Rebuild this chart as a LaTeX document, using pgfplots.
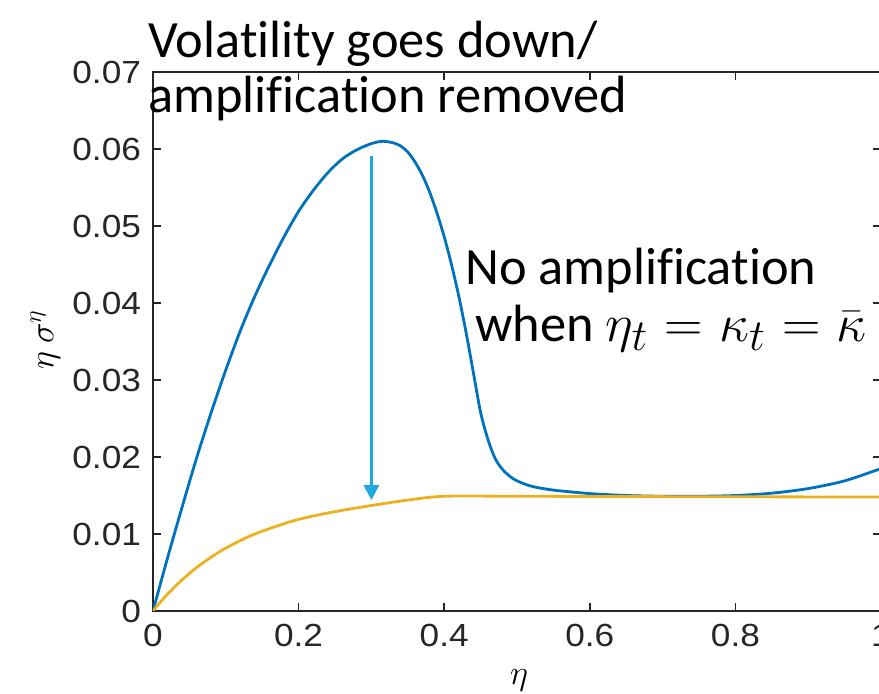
\documentclass[border=0pt]{standalone}
\usepackage{pgfplots}
\pgfplotsset{compat=1.18}
\usetikzlibrary{arrows.meta}
\usepackage{fontspec}
\setmainfont{Carlito}[Ligatures=NoCommon]
\newfontfamily\tickfont{Liberation Sans}[FakeStretch=1.1]
\definecolor{mblue}{HTML}{0072BD}
\definecolor{morange}{HTML}{EDB120}
\definecolor{arrowc}{RGB}{30,168,224}
\definecolor{axc}{HTML}{262626}
\begin{document}
\begin{tikzpicture}
\useasboundingbox (-76.5pt,-41.5pt) rectangle (363pt,305.5pt);
\begin{axis}[
  at={(0pt,0pt)}, anchor=south west,
  scale only axis, width=364pt, height=269.5pt,
  xmin=0, xmax=1, ymin=0, ymax=0.07,
  scaled x ticks=false, scaled y ticks=false,
  xtick={0,0.2,0.4,0.6,0.8,1},
  xticklabels={0,0.2,0.4,0.6,0.8,1},
  ytick={0,0.01,0.02,0.03,0.04,0.05,0.06,0.07},
  yticklabels={0,0.01,0.02,0.03,0.04,0.05,0.06,0.07},
  tick align=inside, major tick length=4pt,
  axis line style={axc, line width=0.75pt},
  every tick/.style={axc, line width=0.75pt},
  tick label style={font=\fontsize{16}{19}\selectfont\tickfont, text=axc},
  xticklabel style={yshift=-3pt},
  yticklabel style={xshift=-2.5pt},
  /pgf/number format/assume math mode=true,
  xlabel={$\eta$}, ylabel={$\eta\ \sigma^{\eta}$},
  label style={font=\fontsize{18}{20}\selectfont},
  xlabel style={at={(axis description cs:0.503,-0.128)}, anchor=center},
  ylabel style={at={(axis description cs:-0.148,0.503)}, anchor=center},
]
\addplot[mblue, line width=1.4pt, smooth] coordinates {
(0,0) (0.02,0.0069) (0.04,0.0135) (0.06,0.0199) (0.08,0.0258) (0.10,0.0313)
(0.12,0.0364) (0.14,0.0409) (0.16,0.0449) (0.18,0.0486) (0.20,0.0519)
(0.22,0.0546) (0.24,0.0569) (0.26,0.0587) (0.28,0.0599) (0.30,0.0607)
(0.315,0.0610) (0.33,0.0608) (0.34,0.0604) (0.35,0.0596) (0.36,0.0583)
(0.37,0.0566) (0.38,0.0544) (0.39,0.0517) (0.40,0.0486) (0.41,0.0450)
(0.42,0.0409) (0.43,0.0362) (0.44,0.0310) (0.45,0.0258) (0.46,0.0223)
(0.47,0.0198) (0.48,0.0184) (0.49,0.0175) (0.50,0.0169) (0.52,0.0162)
(0.55,0.0157) (0.60,0.01525) (0.65,0.0150) (0.70,0.0149) (0.75,0.0149)
(0.80,0.0150) (0.85,0.0153) (0.90,0.0159) (0.95,0.0169) (1.0,0.0185)
};
\addplot[morange, line width=1.4pt, smooth] coordinates {
(0,0) (0.01,0.00114) (0.02,0.00219) (0.04,0.00405) (0.06,0.00565) (0.08,0.0070)
(0.10,0.00817) (0.13,0.0096) (0.16,0.0107) (0.20,0.0119) (0.25,0.0129)
(0.30,0.0137) (0.35,0.0144) (0.40,0.0149) (0.5,0.0149) (0.7,0.01485) (1.0,0.0148)
};
\draw[arrowc, line width=1.5pt, -{Triangle[width=7.5pt,length=7.5pt]}]
  (axis cs:0.3,0.0591) -- (axis cs:0.3,0.0144);
\end{axis}
\begin{scope}[every node/.style={inner sep=0pt, anchor=base west, font=\fontsize{26.2}{30}\selectfont}]
\node at (-2.5pt,276.5pt) {Volatility goes down/};
\node at (-2.5pt,249pt) {amplification removed};
\node at (156pt,163pt) {No amplification};
\node at (161pt,134.5pt) {when \scalebox{1.07}{\fontsize{32}{34}\selectfont\thickmuskip=5.5mu plus 2mu$\eta_t = \kappa_t = \bar{\kappa}$}};
\end{scope}
\end{tikzpicture}
\end{document}
